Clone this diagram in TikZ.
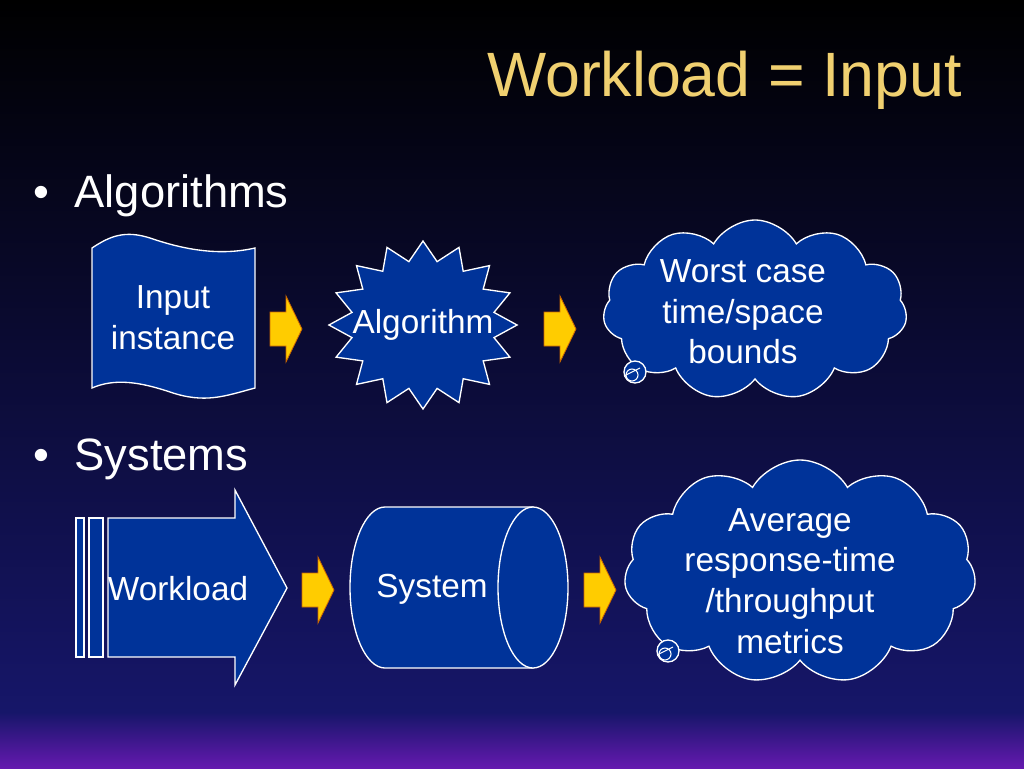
\documentclass[tikz,border=0pt]{standalone}
\usepackage{fontspec}
\setmainfont{Liberation Sans}
\usetikzlibrary{shapes.geometric,shapes.symbols}
\definecolor{boxblue}{RGB}{0,51,153}
\definecolor{titlegold}{RGB}{240,208,112}
\definecolor{arrowgold}{RGB}{255,204,0}
\definecolor{bgblue}{RGB}{22,22,105}
\definecolor{bandpurple}{RGB}{100,25,175}
\tikzset{every picture/.style={line width=0.75pt},
  blueshape/.style={fill=boxblue,draw=white,line width=1pt},
  goldarrow/.pic={\draw [fill=arrowgold,draw=orange!80!black,line width=0.6pt] (-16,-17) -- (0,-17) -- (0,-33) -- (16,0) -- (0,33) -- (0,17) -- (-16,17) -- cycle;},
  txt/.style={text=white,font=\fontsize{25}{30.5}\selectfont,align=center,inner sep=0.75pt}}
\begin{document}
\begin{tikzpicture}[x=0.75pt,y=0.75pt,yscale=-1,xscale=1]
%background
\useasboundingbox (0,0) rectangle (1024,768);
\shade [top color=black,bottom color=bgblue] (0,0) rectangle (1024,712);
\shade [top color=bgblue,bottom color=bandpurple] (0,712) rectangle (1024,768);

% Title and bullets
\node [anchor=east,text=titlegold,font=\fontsize{47}{52}\selectfont,inner sep=0pt] (title) at (962,80) {Workload = Input};
\node [anchor=west,text=white,font=\fontsize{34}{38}\selectfont,inner sep=0pt] (algo) at (33,196) {\textbullet\ \ Algorithms};
\node [anchor=west,text=white,font=\fontsize{34}{38}\selectfont,inner sep=0pt] (sys) at (33,459) {\textbullet\ \ Systems};

%Document shape
\draw [blueshape] (92,248) .. controls (110,236) and (125,230) .. (150,238) .. controls (185,250) and (220,256) .. (255,248) -- (255,388) .. controls (225,396) and (205,404) .. (170,392) .. controls (140,382) and (115,378) .. (92,388) -- cycle;
\node [txt] (input) at (173,318) {Input\\instance};

% Star
\node [star,star points=16,star point ratio=1.3,minimum size=126pt,xscale=1.12,blueshape] (alg) at (423,325) {};
\node [txt] (algtext) at (alg) {Algorithm};

% Cloud 1
\node [cloud,cloud puffs=11,cloud puff arc=120,aspect=1.6,minimum width=228pt,minimum height=135pt,blueshape] (bound) at (755,310) {};
\node [txt] (boundtext) at (743,312) {Worst case\\time/space\\bounds};
\draw [blueshape] (635,372) circle (11);
\draw [white,line width=0.8pt] (632,375) circle (6) (624,376) -- (640,368);

% Arrows row 1
\pic at (286,329) {goldarrow};
\pic at (560,329) {goldarrow};

% Workload arrow
\draw [blueshape] (76,518) rectangle (84,657);
\draw [blueshape] (89,518) rectangle (103,657);
\draw [blueshape] (108,518) -- (235,518) -- (235,490) -- (287,588) -- (235,685) -- (235,657) -- (108,657) -- cycle;
\node [txt] (work) at (178,589) {Workload};

% Cylinder
\draw [blueshape] (385,507) -- (533,507) -- (533,668) -- (385,668) arc (90:270:35 and 80.5) -- cycle;
\draw [blueshape] (533,587.5) ellipse (35 and 80.5);
\node [txt] (system) at (432,589) {System};

% Cloud 2
\node [cloud,cloud puffs=11,cloud puff arc=120,aspect=1.55,minimum width=264pt,minimum height=168pt,blueshape] (metric) at (800,572) {};
\node [txt] (metrictext) at (790,581) {Average\\response-time\\/throughput\\metrics};
\draw [blueshape] (668,651) circle (11);
\draw [white,line width=0.8pt] (665,654) circle (6) (657,655) -- (673,647);

% Arrows row 2
\pic at (318,590) {goldarrow};
\pic at (600,590) {goldarrow};
\end{tikzpicture}
\end{document}
